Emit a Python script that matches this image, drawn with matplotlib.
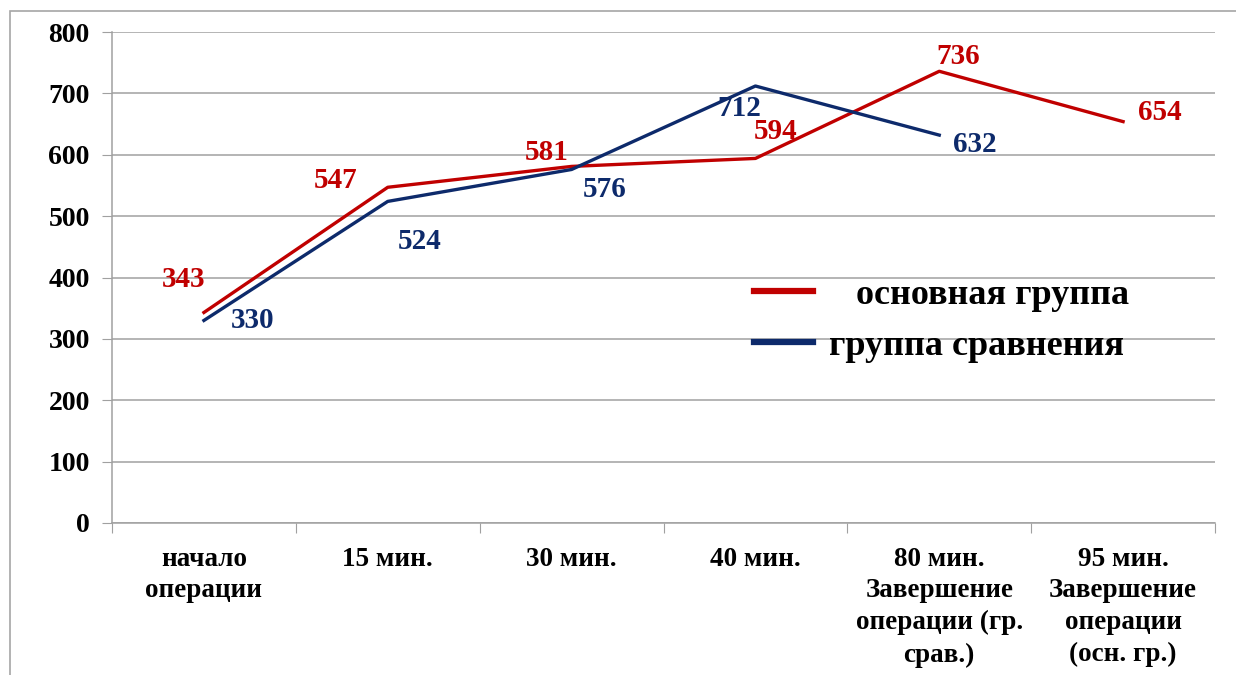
import matplotlib
matplotlib.use("Agg")
import matplotlib.pyplot as plt
from matplotlib.patches import Rectangle
from matplotlib.lines import Line2D

categories = [
    "начало\nоперации",
    "15 мин.",
    "30 мин.",
    "40 мин.",
    "80 мин.\nЗавершение\nоперации (гр.\nсрав.)",
    "95 мин.\nЗавершение\nоперации\n(осн. гр.)",
]
main_group = [343, 547, 581, 594, 736, 654]
compare_group = [330, 524, 576, 712, 632]
series_names = ["   основная группа", "группа сравнения"]
y_ticks = [0, 100, 200, 300, 400, 500, 600, 700, 800]

RED = "#C00000"
NAVY = "#0D2A6B"

# label offsets in pixels (dx, dy) relative to each point
main_offsets = [(-20, 33), (-52, 7), (-25, 14), (20, 27), (19, 15), (37, 9)]
compare_offsets = [(49, 0), (32, -40), (33, -20), (-16, -22), (36, -9)]

plt.rcParams["font.family"] = ["Liberation Serif", "DejaVu Serif"]
plt.rcParams["font.weight"] = "bold"

fig = plt.figure(figsize=(12.36, 6.75), dpi=100)
ax = fig.add_axes([112 / 1236, 1 - 523 / 675, (1215 - 112) / 1236, (523 - 32) / 675])

# outer frame of the chart area
fig.patches.append(Rectangle((10 / 1236, -0.2), 1.5, 1.2 - 11 / 675,
                             transform=fig.transFigure, fill=False,
                             edgecolor="#A6A6A6", linewidth=1.2, zorder=0))

x_main = list(range(len(main_group)))
x_cmp = list(range(len(compare_group)))

ax.plot(x_main, main_group, color=RED, linewidth=2.4, zorder=3)
ax.plot(x_cmp, compare_group, color=NAVY, linewidth=2.4, zorder=3)

for x, v, (dx, dy) in zip(x_main, main_group, main_offsets):
    ax.annotate(str(v), (x, v), xytext=(dx, dy), textcoords="offset pixels",
                ha="center", va="center", color=RED, fontsize=21,
                fontweight="bold", zorder=5)
for x, v, (dx, dy) in zip(x_cmp, compare_group, compare_offsets):
    ax.annotate(str(v), (x, v), xytext=(dx, dy), textcoords="offset pixels",
                ha="center", va="center", color=NAVY, fontsize=21,
                fontweight="bold", zorder=5)

ax.set_xlim(-0.5, len(categories) - 0.5)
ax.set_ylim(0, 800)
ax.set_yticks(y_ticks)
ax.set_yticklabels([str(t) for t in y_ticks], fontsize=20, fontweight="bold")
ax.yaxis.grid(True, color="#A0A0A0", linewidth=1.1)
ax.set_axisbelow(True)

ax.set_xticks([i + 0.5 for i in range(-1, len(categories))])
ax.set_xticklabels([])
ax.set_xticks(range(len(categories)), minor=True)
ax.set_xticklabels(categories, minor=True, fontsize=19.5, fontweight="bold",
                   linespacing=1.36, va="top")
ax.tick_params(axis="x", which="minor", length=0, pad=17)
ax.tick_params(axis="x", which="major", length=7, color="#A0A0A0", direction="out")
ax.tick_params(axis="y", length=7, color="#A0A0A0", pad=9)

for s in ["top", "right"]:
    ax.spines[s].set_visible(False)
for s in ["left", "bottom"]:
    ax.spines[s].set_color("#A0A0A0")
    ax.spines[s].set_linewidth(1.1)

handles = [Line2D([0], [0], color=RED, linewidth=4.5),
           Line2D([0], [0], color=NAVY, linewidth=4.5)]
leg = ax.legend(handles, series_names, loc="upper left",
                bbox_to_anchor=(721 / 1236, 1 - 246 / 675), bbox_transform=fig.transFigure,
                frameon=False, prop={"size": 26, "weight": "bold"},
                handlelength=1.65, handletextpad=0.45, labelspacing=0.5)

fig.savefig("out.png", dpi=100, facecolor="white")
